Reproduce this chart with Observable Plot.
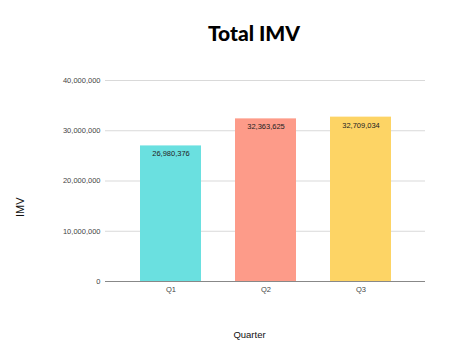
<!DOCTYPE html>
<html>
<head>
<meta charset="utf-8">
<script src="https://cdn.jsdelivr.net/npm/d3@7"></script>
<script src="https://cdn.jsdelivr.net/npm/@observablehq/plot@0.6"></script>
<style>
  body { margin: 0; background: #fff; }
  #wrap { width: 474px; position: relative; }
  #title { height: 60px; box-sizing: border-box; padding-top: 20px; text-align: center; padding-left: 34px;
    font-family: Lato, "Open Sans", sans-serif; font-weight: 900; font-size: 21px; line-height: 26px; color: #000; }
  svg { display: block; overflow: visible; }
</style>
</head>
<body>
<div id="wrap"><div id="title">Total IMV</div></div>
<script>
const quarters = ["Q1", "Q2", "Q3"];
const imv = [26980376, 32363625, 32709034];
const colors = ["#6ae0e0", "#fd9b89", "#fdd465"];
const yTicks = [0, 10000000, 20000000, 30000000, 40000000];

const data = quarters.map((q, i) => ({quarter: q, value: imv[i], color: colors[i]}));
const fmt = d3.format(",");

const chart = Plot.plot({
  width: 474,
  height: 296,
  marginTop: 20,
  marginBottom: 75,
  marginLeft: 105,
  marginRight: 49,
  style: {fontFamily: "Arial, 'Liberation Sans', sans-serif", fontSize: "7.5px", color: "#444", background: "#fff"},
  x: {domain: quarters, padding: 0.36},
  y: {domain: [0, 40000000]},
  marks: [
    Plot.gridY(yTicks.filter(d => d > 0), {stroke: "#d9d9d9", strokeOpacity: 1, strokeWidth: 1}),
    Plot.barY(data, {x: "quarter", y: "value", fill: "color"}),
    Plot.ruleY([0], {stroke: "#888", strokeWidth: 1}),
    Plot.axisX({tickSize: 0, tickPadding: 5, label: null, fill: "#444"}),
    Plot.axisY({ticks: yTicks, tickFormat: fmt, tickSize: 0, tickPadding: 5, label: null, fill: "#444"}),
    Plot.text(data, {x: "quarter", y: "value", text: d => fmt(d.value), dy: 8, fill: "#222", fontSize: 7.5}),
    Plot.text(["Quarter"], {frameAnchor: "bottom", dx: -16, dy: 56, fontSize: 9.5, fill: "#111"}),
    Plot.text(["IMV"], {frameAnchor: "left", dx: -85, dy: 36, rotate: -90, fontSize: 11, fill: "#111"})
  ]
});
document.getElementById("wrap").appendChild(chart);
</script>
</body>
</html>
